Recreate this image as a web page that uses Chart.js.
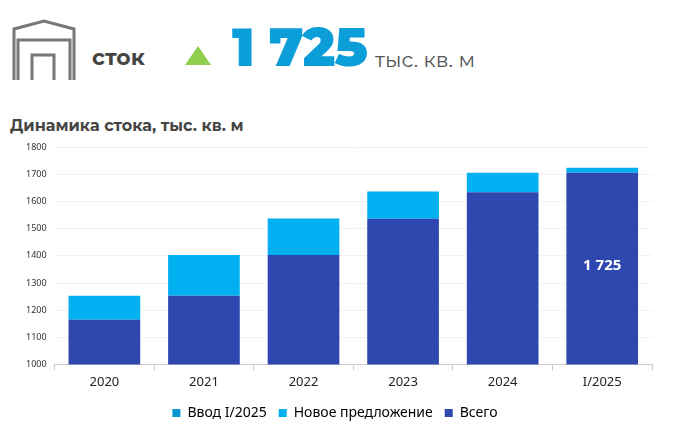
<!DOCTYPE html>
<html><head><meta charset="utf-8">
<script src="https://cdn.jsdelivr.net/npm/chart.js@4"></script>
<style>
body{margin:0;width:678px;height:424px;background:#fff;font-family:Montserrat,"Noto Sans",sans-serif;position:relative;overflow:hidden}
#hdr{position:absolute;left:0;top:0;width:678px;height:110px}
.t{position:absolute;white-space:nowrap}
#wrap{position:absolute;left:0;top:134px;width:678px;height:296px}
</style></head><body>
<div id="hdr">
<svg width="90" height="90" style="position:absolute;left:0;top:0">
<polyline points="14,80 14,29 44,21 74,29 74,80" fill="none" stroke="#777" stroke-width="3"/>
<polyline points="18,80 18,40 70,40 70,80" fill="none" stroke="#777" stroke-width="3"/>
<polyline points="32,80 32,55 54,55 54,80" fill="none" stroke="#777" stroke-width="3"/>
</svg>
<div class="t" style="left:92px;top:44px;font-size:22px;font-weight:bold;color:#444">сток</div>
<svg width="30" height="24" style="position:absolute;left:185px;top:44px"><polygon points="13,2 26,21 0,21" fill="#8fd14f"/></svg>
<div class="t" style="left:232px;top:14px;font-size:54px;font-weight:900;color:#0c9ed9;letter-spacing:-1px">1 725</div>
<div class="t" style="left:375px;top:47px;font-size:21px;color:#555">тыс. кв. м</div>
<div class="t" style="left:10px;top:116px;font-size:16px;font-weight:bold;color:#444">Динамика стока, тыс. кв. м</div>
</div>
<div id="wrap"><canvas id="c"></canvas></div>
<script>
const categories=["2020","2021","2022","2023","2024","I/2025"];
const total=[1165,1253,1403,1537,1635,1707];
const newSupply=[88,150,135,100,72,null];
const inflow2025=[null,null,null,null,null,18];
const yTicks=[1000,1100,1200,1300,1400,1500,1600,1700,1800];
const labelPlugin={id:'lbl',afterDatasetsDraw(ch){const m=ch.getDatasetMeta(0).data[5];const ctx=ch.ctx;ctx.save();ctx.fillStyle='#fff';ctx.font='bold 15px "Noto Sans",sans-serif';ctx.textAlign='center';ctx.textBaseline='middle';ctx.fillText('1 725',m.x,ch.scales.y.getPixelForValue(1362));ctx.restore();}};
const cols=['#2e48b0','#00b0f0','#0797d4'];
new Chart(document.getElementById('c'),{type:'bar',
data:{labels:categories,datasets:[
{label:'Всего',data:total,backgroundColor:'#2e48b0',stack:'s'},
{label:'Новое предложение',data:newSupply,backgroundColor:'#00b0f0',stack:'s'},
{label:'Ввод I/2025',data:inflow2025,backgroundColor:'#00b0f0',stack:'s'}]},
options:{responsive:true,maintainAspectRatio:false,animation:false,
layout:{padding:{left:18,right:26,top:4,bottom:0}},
datasets:{bar:{categoryPercentage:0.72,barPercentage:1}},
plugins:{legend:{position:'bottom',reverse:true,labels:{boxWidth:8,boxHeight:8,padding:12,color:'#333',font:{size:14,family:'"Noto Sans",sans-serif'},
generateLabels(ch){return ch.data.datasets.map((d,i)=>({text:d.label,fillStyle:cols[i],strokeStyle:cols[i],lineWidth:0,datasetIndex:i}));}}},tooltip:{enabled:false}},
scales:{
x:{stacked:true,grid:{offset:true,drawOnChartArea:false,color:'#ccc',tickLength:6},border:{color:'#ccc'},ticks:{padding:4,color:'#222',font:{size:13,family:'"Noto Sans",sans-serif'}}},
y:{stacked:true,min:1000,max:1800,afterBuildTicks(s){s.ticks=yTicks.map(v=>({value:v}));},grid:{color:'#f2f2f2',drawTicks:false},border:{display:false},ticks:{padding:8,color:'#333',callback:v=>String(v),font:{size:9,family:'"Noto Sans",sans-serif'}}}}},
plugins:[labelPlugin]});
</script></body></html>
